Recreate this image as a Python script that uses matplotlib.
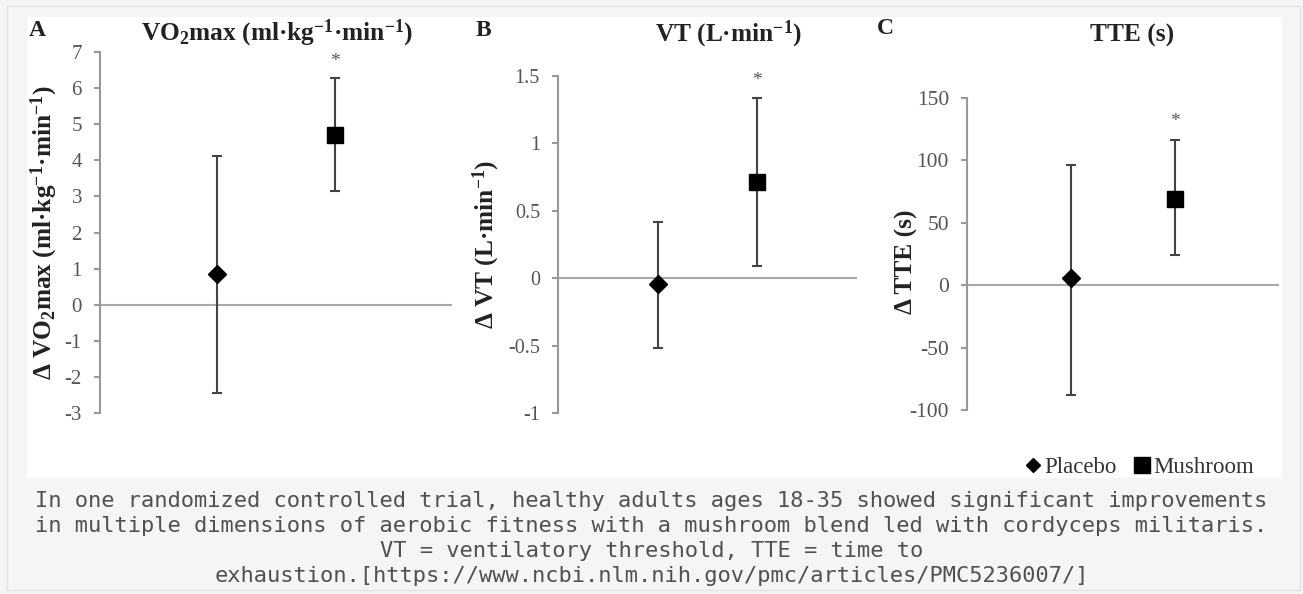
import matplotlib
matplotlib.use("Agg")
import matplotlib.pyplot as plt
from matplotlib.patches import Rectangle
from matplotlib.lines import Line2D

plt.rcParams['font.family'] = ['Liberation Serif', 'DejaVu Serif']
plt.rcParams['mathtext.fontset'] = 'custom'
plt.rcParams['mathtext.rm'] = 'Liberation Serif'
plt.rcParams['mathtext.bf'] = 'Liberation Serif:bold'
plt.rcParams['mathtext.default'] = 'regular'
plt.rcParams['axes.unicode_minus'] = False

W, H = 1303, 594

groups = ["Placebo", "Mushroom"]
group_x = [1, 2]
markers = ["D", "s"]
marker_sizes = [9, 12]

# --- Panel A: VO2max ---
vo2_mean = [0.85, 4.70]
vo2_low = [-2.45, 3.15]
vo2_high = [4.12, 6.28]
vo2_ticks = [-3, -2, -1, 0, 1, 2, 3, 4, 5, 6, 7]

# --- Panel B: ventilatory threshold ---
vt_mean = [-0.045, 0.71]
vt_low = [-0.515, 0.09]
vt_high = [0.42, 1.335]
vt_ticks = [-1, -0.5, 0, 0.5, 1, 1.5]

# --- Panel C: time to exhaustion ---
tte_mean = [5.4, 69]
tte_low = [-88, 24]
tte_high = [96, 116]
tte_ticks = [-100, -50, 0, 50, 100, 150]

caption = [
    "In one randomized controlled trial, healthy adults ages 18-35 showed significant improvements",
    "in multiple dimensions of aerobic fitness with a mushroom blend led with cordyceps militaris.",
    "VT = ventilatory threshold, TTE = time to",
    "exhaustion.[https://www.ncbi.nlm.nih.gov/pmc/articles/PMC5236007/]",
]


def fx(px):
    return px / W


def fy(py):
    return 1 - py / H


def box(x0, y0, x1, y1):
    return [fx(x0), fy(y1), (x1 - x0) / W, (y1 - y0) / H]


fig = plt.figure(figsize=(W / 100, H / 100), dpi=100, facecolor="#f5f5f5")

# framed white panel behind the figure
fig.patches.append(Rectangle((fx(7), fy(590)), fx(1300) - fx(7), fy(6) - fy(590),
                             transform=fig.transFigure, facecolor="none",
                             edgecolor="#e2e2e2", lw=1.0, zorder=-2))
fig.patches.append(Rectangle((fx(27), fy(478)), fx(1282) - fx(27), fy(17) - fy(478),
                             transform=fig.transFigure, facecolor="white",
                             edgecolor="none", zorder=-1))

panels = [
    dict(rect=box(100, 52, 452, 413), mean=vo2_mean, low=vo2_low, high=vo2_high,
         ticks=vo2_ticks, tick_size=15, star=6.75,
         title="VO$_2$max (ml·kg$^{-1}$·min$^{-1}$)", title_xy=(277, 33),
         ylabel="Δ VO$_2$max (ml·kg$^{-1}$·min$^{-1}$)", ylabel_xy=(44, 233),
         letter="A", letter_xy=(37, 30)),
    dict(rect=box(558, 76, 857, 413), mean=vt_mean, low=vt_low, high=vt_high,
         ticks=vt_ticks, tick_size=14.5, star=1.47,
         title="VT (L·min$^{-1}$)", title_xy=(728, 34),
         ylabel="Δ VT (L·min$^{-1}$)", ylabel_xy=(486, 244),
         letter="B", letter_xy=(483, 30)),
    dict(rect=box(967, 97.7, 1279, 410), mean=tte_mean, low=tte_low, high=tte_high,
         ticks=tte_ticks, tick_size=15.5, star=131,
         title="TTE (s)", title_xy=(1132, 35),
         ylabel="Δ TTE (s)", ylabel_xy=(906, 262),
         letter="C", letter_xy=(885, 29)),
]

for p in panels:
    ax = fig.add_axes(p["rect"])
    ax.patch.set_alpha(0)
    ax.set_xlim(0, 3)
    ax.set_ylim(p["ticks"][0], p["ticks"][-1])
    ax.axhline(0, color="#a8a8a8", lw=1.5, zorder=1)

    for i in range(2):
        m = p["mean"][i]
        err = [[m - p["low"][i]], [p["high"][i] - m]]
        ax.errorbar(group_x[i], m, yerr=err, fmt=markers[i], ms=marker_sizes[i],
                    color="black", ecolor="#444444", elinewidth=1.5,
                    capsize=3.5, capthick=1.5, zorder=3, label=groups[i])

    ax.text(group_x[1], p["star"], "*", ha="center", va="center",
            fontsize=14, color="#555555")

    for side in ["top", "right", "bottom"]:
        ax.spines[side].set_visible(False)
    ax.spines["left"].set_color("#999999")
    ax.spines["left"].set_linewidth(1.5)
    ax.set_xticks([])
    ax.set_yticks(p["ticks"])
    ax.set_yticklabels([f"{t:g}" for t in p["ticks"]])
    ax.tick_params(axis="y", direction="out", length=4, width=1.5, color="#999999",
                   labelsize=p["tick_size"], labelcolor="#555555", pad=9)

    fig.text(fx(p["title_xy"][0]), fy(p["title_xy"][1]), p["title"], ha="center",
             va="center", fontsize=18.3, fontweight="bold", color="#222222")
    fig.text(fx(p["ylabel_xy"][0]), fy(p["ylabel_xy"][1]), p["ylabel"], ha="center",
             va="center", rotation=90, fontsize=18.3, fontweight="bold", color="#222222")
    fig.text(fx(p["letter_xy"][0]), fy(p["letter_xy"][1]), p["letter"], ha="center",
             va="center", fontsize=17, fontweight="bold", color="#222222")

handles = [Line2D([], [], ls="none", marker=markers[i], color="black",
                  ms=[7.5, 11][i]) for i in range(2)]
fig.legend(handles, groups, loc="center right", bbox_to_anchor=(fx(1254), fy(467)),
           ncol=2, frameon=False, fontsize=16.5, handlelength=0.6, handletextpad=0.2,
           columnspacing=0.8, labelcolor="#333333", borderpad=0, borderaxespad=0)

for line, y in zip(caption, [501, 526, 551, 576]):
    fig.text(0.5, fy(y), line, ha="center", va="center", fontsize=15.8,
             family="DejaVu Sans Mono", color="#505050")

fig.savefig("out.png", dpi=100, facecolor=fig.get_facecolor())
